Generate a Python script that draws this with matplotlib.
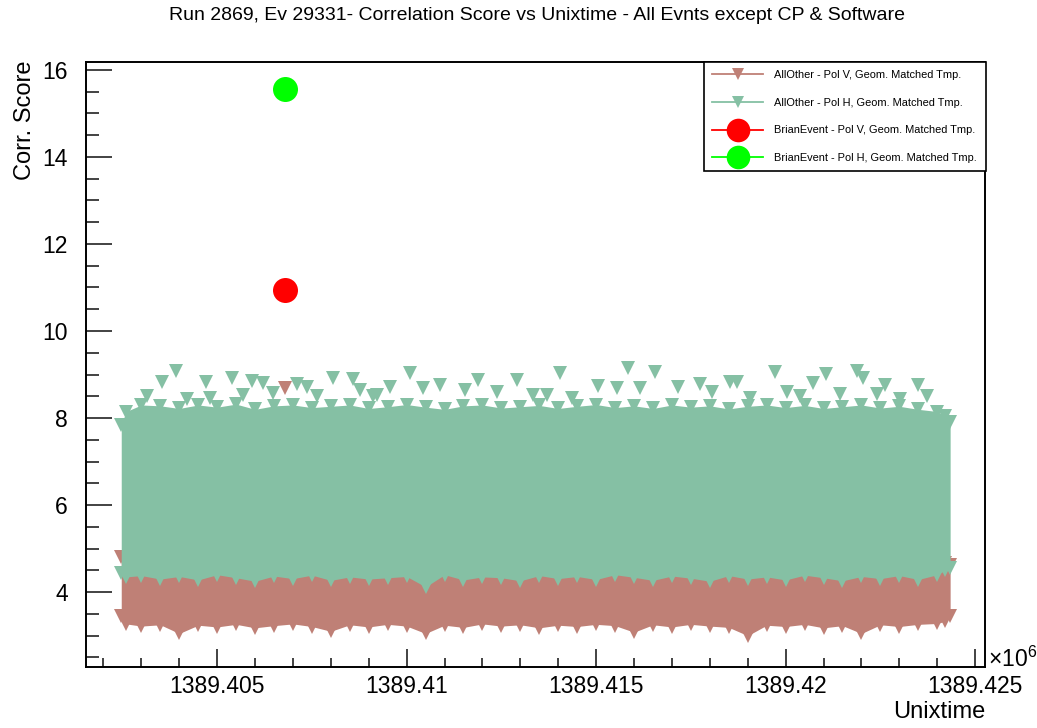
import matplotlib
matplotlib.use("Agg")
import matplotlib.pyplot as plt
from matplotlib.lines import Line2D
from matplotlib.ticker import MultipleLocator, FuncFormatter

plt.rcParams['font.family'] = ['Liberation Sans', 'DejaVu Sans']
plt.rcParams['mathtext.fontset'] = 'custom'
plt.rcParams['mathtext.rm'] = 'Liberation Sans'

# ---- data -------------------------------------------------------------
# sampled envelope of the dense event cloud (unix time in s, corr. score)
band_t = [1389402470, 1389402600, 1389403000, 1389403500, 1389404000,
          1389404500, 1389405000, 1389405500, 1389406000, 1389406500,
          1389407000, 1389407500, 1389408000, 1389408500, 1389409000,
          1389409500, 1389410000, 1389410500, 1389411000, 1389411500,
          1389412000, 1389412500, 1389413000, 1389413500, 1389414000,
          1389414500, 1389415000, 1389415500, 1389416000, 1389416500,
          1389417000, 1389417500, 1389418000, 1389418500, 1389419000,
          1389419500, 1389420000, 1389420500, 1389421000, 1389421500,
          1389422000, 1389422500, 1389423000, 1389423500, 1389424000,
          1389424200, 1389424340]

# Pol H cloud: upper / lower edge
h_top = [7.85, 8.15, 8.30, 8.28, 8.22, 8.30, 8.25, 8.32, 8.20, 8.28,
         8.30, 8.24, 8.27, 8.30, 8.22, 8.26, 8.31, 8.25, 8.20, 8.28,
         8.30, 8.23, 8.26, 8.29, 8.22, 8.27, 8.31, 8.24, 8.28, 8.22,
         8.30, 8.25, 8.28, 8.21, 8.27, 8.30, 8.24, 8.29, 8.22, 8.26,
         8.30, 8.23, 8.27, 8.20, 8.15, 8.05, 7.90]
h_bot = [4.45, 4.35, 4.38, 4.30, 4.36, 4.28, 4.40, 4.33, 4.25, 4.37,
         4.31, 4.39, 4.27, 4.35, 4.30, 4.33, 4.36, 4.12, 4.40, 4.28,
         4.35, 4.33, 4.26, 4.38, 4.31, 4.36, 4.29, 4.40, 4.34, 4.27,
         4.37, 4.32, 4.25, 4.38, 4.30, 4.35, 4.28, 4.39, 4.33, 4.26,
         4.36, 4.31, 4.38, 4.29, 4.40, 4.50, 4.55]

# Pol V cloud: upper / lower edge
v_top = [4.80, 4.72, 4.70, 4.68, 4.71, 4.69, 4.72, 4.70, 4.67, 4.71,
         4.70, 4.72, 4.68, 4.70, 4.69, 4.71, 4.70, 4.66, 4.72, 4.69,
         4.70, 4.71, 4.68, 4.72, 4.70, 4.69, 4.71, 4.72, 4.70, 4.68,
         4.71, 4.70, 4.69, 4.72, 4.70, 4.71, 4.68, 4.72, 4.70, 4.69,
         4.71, 4.70, 4.72, 4.68, 4.70, 4.66, 4.62]
v_bot = [3.45, 3.27, 3.22, 3.25, 3.05, 3.24, 3.20, 3.26, 3.18, 3.23,
         3.27, 3.21, 3.10, 3.25, 3.20, 3.26, 3.22, 3.05, 3.24, 3.19,
         3.27, 3.22, 3.25, 3.18, 3.24, 3.21, 3.26, 3.23, 3.08, 3.25,
         3.20, 3.26, 3.22, 3.19, 3.00, 3.24, 3.21, 3.26, 3.18, 3.23,
         3.05, 3.25, 3.21, 3.26, 3.28, 3.33, 3.45]

# isolated Pol H events above the cloud
h_out_t = [1389403550, 1389403920, 1389404710, 1389405400, 1389405920,
           1389406210, 1389407110, 1389407370, 1389408060, 1389408590,
           1389409560, 1389410090, 1389410440, 1389410880, 1389411890,
           1389412920, 1389414050, 1389415050, 1389415840, 1389416560,
           1389417160, 1389417740, 1389418540, 1389418720, 1389419720,
           1389420730, 1389421070, 1389421890, 1389422040, 1389422630,
           1389423500, 1389408770, 1389409220, 1389411540, 1389412390,
           1389413340, 1389413710, 1389414370, 1389415550, 1389416160,
           1389418060, 1389419060, 1389420040, 1389420380, 1389421440,
           1389422410, 1389423020, 1389423730, 1389403150, 1389404210,
           1389404820, 1389405690, 1389406480, 1389407640, 1389409120]
h_out_s = [8.83, 9.08, 8.83, 8.92, 8.85,
           8.80, 8.78, 8.71, 8.92, 8.90,
           8.71, 9.03, 8.69, 8.76, 8.87,
           8.87, 9.03, 8.74, 9.15, 9.06,
           8.71, 8.78, 8.83, 8.83, 9.06,
           8.80, 9.01, 9.08, 8.92, 8.76,
           8.76, 8.64, 8.53, 8.64, 8.60,
           8.53, 8.53, 8.46, 8.69, 8.69,
           8.60, 8.46, 8.60, 8.51, 8.55,
           8.55, 8.44, 8.51, 8.50, 8.44,
           8.46, 8.53, 8.57, 8.51, 8.51]

# isolated Pol V event
v_out_t = [1389406790]
v_out_s = [8.69]

# the selected event
brian_t = [1389406790]
brian_v = [10.94]
brian_h = [15.56]

labels = ["AllOther - Pol V, Geom. Matched Tmp.",
          "AllOther - Pol H, Geom. Matched Tmp.",
          "BrianEvent - Pol V, Geom. Matched Tmp.",
          "BrianEvent - Pol H, Geom. Matched Tmp."]

c_v = '#bf8076'
c_h = '#85c0a4'
c_bv = '#ff0000'
c_bh = '#00ff00'

# ---- figure -----------------------------------------------------------
fig = plt.figure(figsize=(10.37, 7.28), dpi=100)
ax = fig.add_axes([86/1037, 61/728, 899/1037, 605/728])

tri = dict(linestyle='none', marker='v', markersize=9.4, markeredgewidth=0)

# Pol V cloud
ax.fill_between(band_t, v_bot, v_top, color=c_v, lw=0, zorder=2)
ax.plot(band_t, v_bot, color=c_v, zorder=2, **tri)
ax.plot(band_t, v_top, color=c_v, zorder=2, **tri)
ax.plot(v_out_t, v_out_s, color=c_v, zorder=2, **tri)

# Pol H cloud
ax.fill_between(band_t, h_bot, h_top, color=c_h, lw=0, zorder=3)
ax.plot(band_t, h_bot, color=c_h, zorder=3, **tri)
ax.plot(band_t, h_top, color=c_h, zorder=3, **tri)
ax.plot(h_out_t, h_out_s, color=c_h, zorder=3, **tri)

# selected event
ax.plot(brian_t, brian_v, linestyle='none', marker='o', markersize=18,
        color=c_bv, markeredgewidth=0, zorder=4)
ax.plot(brian_t, brian_h, linestyle='none', marker='o', markersize=18,
        color=c_bh, markeredgewidth=0, zorder=4)

ax.set_xlim(1389401540, 1389425260)
ax.set_ylim(2.28, 16.18)

# axes styling
for s in ax.spines.values():
    s.set_linewidth(1.4)
    s.set_color('black')
ax.xaxis.set_major_locator(MultipleLocator(5000))
ax.xaxis.set_minor_locator(MultipleLocator(1000))
ax.yaxis.set_major_locator(MultipleLocator(2))
ax.yaxis.set_minor_locator(MultipleLocator(0.5))
ax.xaxis.set_major_formatter(
    FuncFormatter(lambda v, p: f"{v/1e6:.3f}".rstrip('0').rstrip('.')))
ax.yaxis.set_major_formatter(FuncFormatter(lambda v, p: f"{v:g}"))
ax.tick_params(axis='both', which='both', direction='in', top=False,
               right=False, width=1.2, color='#222222')
ax.tick_params(axis='y', which='major', length=18.5, pad=13, labelsize=16.5)
ax.tick_params(axis='y', which='minor', length=9.4)
ax.tick_params(axis='x', which='major', length=13, pad=6, labelsize=16.5)
ax.tick_params(axis='x', which='minor', length=6.5)

ax.set_ylabel("Corr. Score", fontsize=17)
ax.yaxis.label.set_rotation_mode('default')
ax.yaxis.label.set_ha('center')
ax.yaxis.label.set_va('top')
ax.yaxis.set_label_coords(-0.068, 1.003)

ax.set_xlabel("Unixtime", fontsize=17)
ax.xaxis.label.set_ha('right')
ax.xaxis.label.set_va('center')
ax.xaxis.set_label_coords(1.0, -0.0744)

ax.text(1.003, 0.0, r'$\times$10$^{6}$', transform=ax.transAxes,
        fontsize=16.5, ha='left', va='baseline')

fig.text(537/1037, 1 - 15/728,
         "Run 2869, Ev 29331- Correlation Score vs Unixtime - All Evnts except CP & Software",
         ha='center', va='center', fontsize=14)

# legend
handles = [
    Line2D([], [], color=c_v, marker='v', markersize=8, markeredgewidth=0, lw=1.3),
    Line2D([], [], color=c_h, marker='v', markersize=8, markeredgewidth=0, lw=1.3),
    Line2D([], [], color=c_bv, marker='o', markersize=17, markeredgewidth=0, lw=1.3),
    Line2D([], [], color=c_bh, marker='o', markersize=17, markeredgewidth=0, lw=1.3),
]
leg = ax.legend(handles, labels, loc='upper left',
                bbox_to_anchor=((704-86)/899, 1.0, 282/899, 0.0),
                mode='expand', borderaxespad=0, fontsize=7.9,
                handlelength=4.65, handletextpad=0.95, borderpad=0.76,
                labelspacing=1.6, fancybox=False, framealpha=1,
                edgecolor='black')
leg.get_frame().set_linewidth(1.2)

fig.savefig("out.png", dpi=100)
